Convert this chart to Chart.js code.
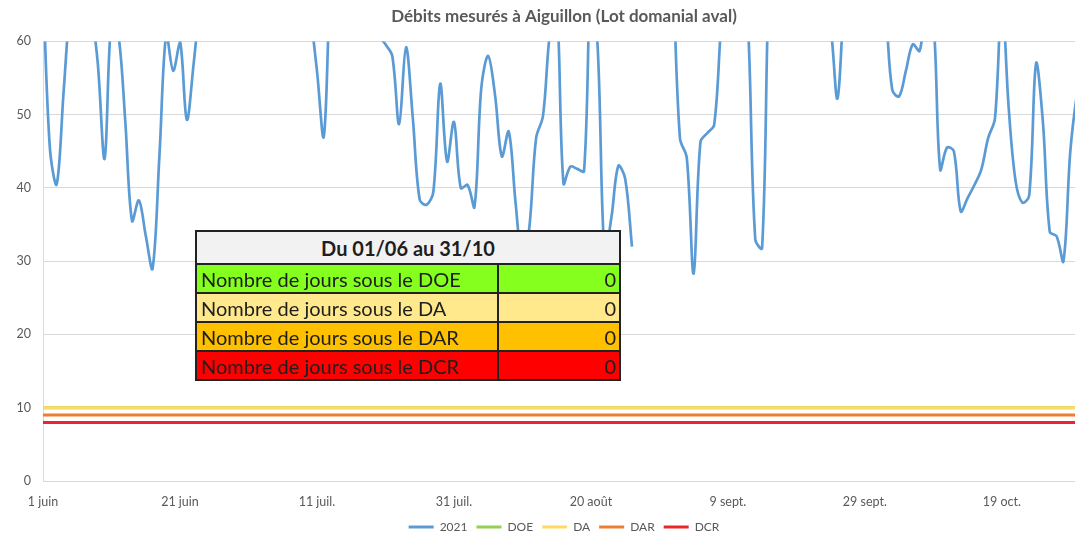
<!DOCTYPE html>
<html>
<head>
<meta charset="utf-8">
<title>Débits mesurés à Aiguillon</title>
<script src="https://cdn.jsdelivr.net/npm/chart.js@4.4.1/dist/chart.umd.min.js"></script>
<style>
  html, body { margin: 0; padding: 0; background: #fff; overflow: hidden; }
  #wrap { position: relative; width: 1128px; height: 547px; }
  #tbl {
    position: absolute; left: 195px; top: 230px; width: 424px;
    border-collapse: collapse; table-layout: fixed;
    font-family: Lato, sans-serif; font-size: 20px; color: #1e1e1e;
  }
  #tbl td { border: 2px solid #222; padding: 0 3px 0 4px; height: 27px; line-height: 24px; white-space: nowrap; overflow: hidden; }
  #tbl th { border: 2px solid #222; height: 29px; line-height: 26px; background: #f2f2f2; font-weight: bold; font-size: 20px; }
  #tbl td.n { text-align: right; }
</style>
</head>
<body>
<div id="wrap">
  <canvas id="c" width="1128" height="547"></canvas>
  <table id="tbl">
    <colgroup><col style="width:302px"><col style="width:122px"></colgroup>
    <thead><tr><th colspan="2" id="tblHead"></th></tr></thead>
    <tbody id="tblBody"></tbody>
  </table>
</div>
<script>
// débits journaliers du 1 juin au 31 oct. 2021 (m3/s), null = pas de mesure
var flow2021 = [
  68, 45.5, 40.5, 53, 66, 74, 72, 65, 57, 44,
  63, 61, 49.3, 35.5, 38.3, 33.5, 29, 44.4, 61, 56,
  60, 49.3, 57, 66, 72, 78, 85, 90, 88, 80,
  76, 82, 95, 102, 96, 88, 80, 74, 70, 64,
  56, 47, 68, 75, 84, 92, 86, 78, 70, 61,
  59.6, 58, 48.7, 59.2, 49.5, 38.4, 37.7, 39.5, 54.2, 43.6,
  49, 40, 40.4, 37.4, 53.7, 58, 52.7, 44.3, 47.7, 38,
  30, 34.5, 46.8, 49.8, 61, 65, 40.6, 42.9, 42.6, 42.3,
  68, 59, 31, 36, 43, 41.3, 32, null, null, null,
  null, null, 70, 46.8, 44.1, 28.3, 46.3, 47.5, 48.6, 62,
  72, 80, 74, 61, 33, 31.8, 68, 78, 90, 96,
  88, 82, 76, 70, 66, 62, 52.2, 66, 74, 80,
  78, 72, 68, 64, 53.4, 52.5, 56, 59.6, 58.7, 65,
  63, 42.5, 45.5, 45, 36.8, 38.6, 40.4, 42.5, 46.8, 49.5,
  66, 51, 41, 38, 39, 57, 49, 34, 33.4, 30,
  45, 53, 58
];

var thresholdNames = ['DOE', 'DA', 'DAR', 'DCR'];
var thresholdValues = [10, 10, 9, 8];

var tickDays = [0, 20, 40, 60, 80, 100, 120, 140];
var tickLabels = ['1 juin', '21 juin', '11 juil.', '31 juil.', '20 août', '9 sept.', '29 sept.', '19 oct.'];

var chartTitle = 'Débits mesurés à Aiguillon (Lot domanial aval)';
var tableTitle = 'Du 01/06 au 31/10';
var tableLabels = ['Nombre de jours sous le DOE', 'Nombre de jours sous le DA', 'Nombre de jours sous le DAR', 'Nombre de jours sous le DCR'];
var tableCounts = [0, 0, 0, 0];

var lineColors = { '2021': '#5b9bd5', DOE: '#92d050', DA: '#ffd966', DAR: '#ed7d31', DCR: '#e8262b' };
var rowColors = ['#84ff1e', '#ffe98c', '#ffc000', '#ff0000'];

// tableau
document.getElementById('tblHead').textContent = tableTitle;
var body = document.getElementById('tblBody');
for (var r = 0; r < tableLabels.length; r++) {
  var tr = document.createElement('tr');
  tr.style.background = rowColors[r];
  var a = document.createElement('td');
  a.textContent = tableLabels[r];
  var b = document.createElement('td');
  b.className = 'n';
  b.textContent = tableCounts[r];
  tr.appendChild(a); tr.appendChild(b);
  body.appendChild(tr);
}

var lastDay = flow2021.length - 1;
var datasets = [{
  label: '2021',
  data: flow2021.map(function (v, i) { return { x: i, y: v }; }),
  borderColor: lineColors['2021'],
  backgroundColor: lineColors['2021'],
  borderWidth: 2.7,
  pointRadius: 0,
  tension: 0.35,
  spanGaps: false,
  order: 0
}];
for (var t = 0; t < thresholdNames.length; t++) {
  datasets.push({
    label: thresholdNames[t],
    data: [{ x: 0, y: thresholdValues[t] }, { x: lastDay, y: thresholdValues[t] }],
    borderColor: lineColors[thresholdNames[t]],
    backgroundColor: lineColors[thresholdNames[t]],
    borderWidth: 3,
    pointRadius: 0,
    order: thresholdNames.length - t
  });
}

var font = 'Lato, sans-serif';
new Chart(document.getElementById('c'), {
  type: 'line',
  data: { datasets: datasets },
  options: {
    responsive: false,
    animation: false,
    layout: { padding: { top: 5, right: 0, bottom: 4, left: 0 } },
    plugins: {
      title: {
        display: true, text: chartTitle, color: '#595959',
        font: { family: font, size: 17, weight: 'bold' },
        padding: { top: 1, bottom: 15 }
      },
      legend: {
        position: 'bottom',
        labels: {
          color: '#595959', font: { family: font, size: 12 },
          boxWidth: 25, boxHeight: 3, padding: 9,
          generateLabels: function (chart) {
            return Chart.defaults.plugins.legend.labels.generateLabels(chart).map(function (l) {
              l.lineWidth = 0; l.fillStyle = l.strokeStyle; return l;
            });
          },
          sort: function (a, b) { return a.datasetIndex - b.datasetIndex; }
        }
      },
      tooltip: { enabled: false }
    },
    scales: {
      x: {
        type: 'linear', min: 0, max: lastDay,
        grid: { display: false, drawTicks: false },
        border: { display: false },
        ticks: {
          color: '#595959', font: { family: font, size: 12.5 }, padding: 13, maxRotation: 0,
          callback: function (v) { return tickLabels[tickDays.indexOf(v)]; }
        },
        afterBuildTicks: function (ax) { ax.ticks = tickDays.map(function (v) { return { value: v }; }); },
        afterFit: function (s) { s.height = 31; }
      },
      y: {
        min: 0, max: 60,
        ticks: { stepSize: 10, color: '#595959', font: { family: font, size: 12.5 }, padding: 12 },
        grid: { color: '#d9d9d9', drawTicks: false },
        border: { display: true, color: '#d9d9d9' },
        afterFit: function (s) { s.width = 43; }
      },
      // axe vide à droite : garde la marge du graphique d'origine
      yRight: {
        position: 'right', display: true,
        grid: { display: false, drawTicks: false },
        border: { display: false },
        ticks: { display: false },
        afterFit: function (s) { s.width = 44; }
      }
    }
  }
});
</script>
</body>
</html>
